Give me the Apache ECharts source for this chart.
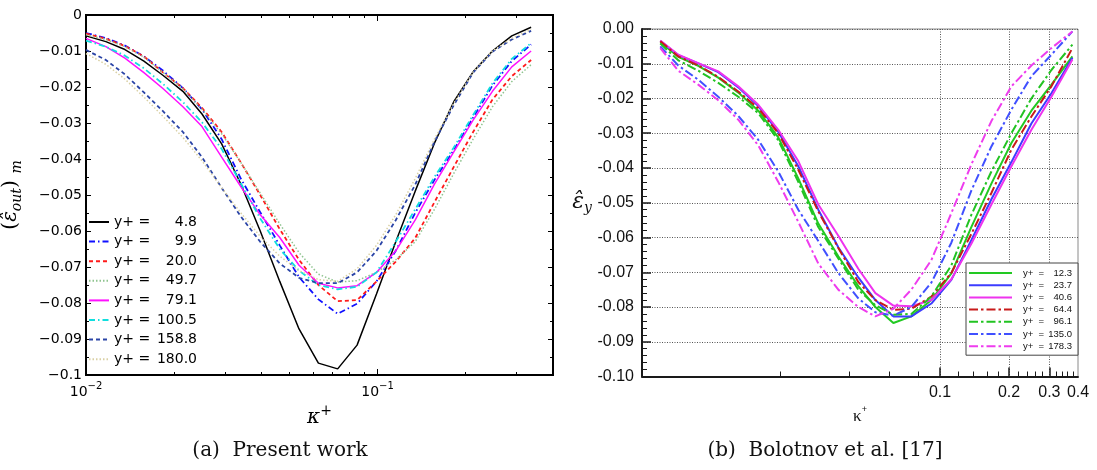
<!DOCTYPE html>
<html>
<head>
<meta charset="utf-8">
<script src="https://cdn.jsdelivr.net/npm/echarts@6.0.0/dist/echarts.min.js"></script>
<style>
html, body { margin: 0; padding: 0; background: #fff; }
#main { width: 1097px; height: 470px; }
</style>
</head>
<body>
<div id="main"></div>
<script>
// (a) present work
var kappaA = [0.0100, 0.0117, 0.0136, 0.0158, 0.0184, 0.0215, 0.0250, 0.0292, 0.0340, 0.0396, 0.0462, 0.0538,
    0.0627, 0.0730, 0.0851, 0.0992, 0.1155, 0.1346, 0.1568, 0.1827, 0.2128, 0.2479, 0.2888, 0.3365];
var yPlusA = ['4.8', '9.9', '20.0', '49.7', '79.1', '100.5', '158.8', '180.0'];
var epsA_4_8 = [-0.0058, -0.0074, -0.0096, -0.0128, -0.0168, -0.0212, -0.0275, -0.0358, -0.0470, -0.0600, -0.0740, -0.0872,
    -0.0967, -0.0983, -0.0917, -0.0775, -0.0630, -0.0490, -0.0356, -0.0241, -0.0158, -0.0100, -0.0058, -0.0034];
var epsA_9_9 = [-0.0050, -0.0064, -0.0085, -0.0115, -0.0155, -0.0203, -0.0262, -0.0345, -0.0455, -0.0548, -0.0640, -0.0728,
    -0.0790, -0.0830, -0.0802, -0.0740, -0.0655, -0.0550, -0.0458, -0.0375, -0.0285, -0.0196, -0.0128, -0.0082];
var epsA_20_0 = [-0.0052, -0.0066, -0.0086, -0.0115, -0.0160, -0.0203, -0.0258, -0.0325, -0.0410, -0.0500, -0.0595, -0.0680,
    -0.0750, -0.0795, -0.0792, -0.0740, -0.0685, -0.0620, -0.0520, -0.0422, -0.0325, -0.0235, -0.0170, -0.0125];
var epsA_49_7 = [-0.0055, -0.0068, -0.0088, -0.0117, -0.0160, -0.0205, -0.0262, -0.0330, -0.0410, -0.0495, -0.0580, -0.0660,
    -0.0720, -0.0742, -0.0738, -0.0715, -0.0680, -0.0630, -0.0540, -0.0440, -0.0345, -0.0255, -0.0185, -0.0138];
var epsA_79_1 = [-0.0065, -0.0088, -0.0120, -0.0160, -0.0205, -0.0255, -0.0310, -0.0395, -0.0477, -0.0555, -0.0618, -0.0695,
    -0.0745, -0.0758, -0.0752, -0.0715, -0.0655, -0.0570, -0.0470, -0.0380, -0.0292, -0.0212, -0.0144, -0.0100];
var epsA_100_5 = [-0.0071, -0.0088, -0.0113, -0.0148, -0.0192, -0.0242, -0.0298, -0.0372, -0.0468, -0.0565, -0.0650, -0.0710,
    -0.0750, -0.0762, -0.0755, -0.0715, -0.0630, -0.0540, -0.0450, -0.0368, -0.0278, -0.0190, -0.0122, -0.0078];
var epsA_158_8 = [-0.0097, -0.0125, -0.0165, -0.0215, -0.0268, -0.0325, -0.0395, -0.0480, -0.0560, -0.0630, -0.0690, -0.0730,
    -0.0745, -0.0745, -0.0715, -0.0655, -0.0570, -0.0472, -0.0352, -0.0250, -0.0160, -0.0102, -0.0068, -0.0044];
var epsA_180_0 = [-0.0107, -0.0137, -0.0178, -0.0228, -0.0282, -0.0340, -0.0405, -0.0480, -0.0550, -0.0615, -0.0670, -0.0710,
    -0.0735, -0.0740, -0.0705, -0.0640, -0.0555, -0.0455, -0.0345, -0.0245, -0.0158, -0.0100, -0.0065, -0.0040];
var ticksMinorA = [0.02, 0.03, 0.04, 0.05, 0.06, 0.07, 0.08, 0.09, 0.2, 0.3];
var ticksMajorA = [0.1];
var labelsA = [0.01, 0.1];

// (b) Bolotnov et al.
var kappaB = [0.00601, 0.00720, 0.00880, 0.01076, 0.01316, 0.01609, 0.01967, 0.02405, 0.02941, 0.03596, 0.04396,
    0.05219, 0.06253, 0.07493, 0.09162, 0.1120, 0.1369, 0.1675, 0.2048, 0.2504, 0.3062, 0.3782];
var yPlusB = ['12.3', '23.7', '40.6', '64.4', '96.1', '135.0', '178.3'];
var epsB_12_3 = [-0.0038, -0.0080, -0.0106, -0.0140, -0.0183, -0.0235, -0.0312, -0.0430, -0.0560, -0.0654, -0.0740,
    -0.0800, -0.0846, -0.0827, -0.0780, -0.0703, -0.0570, -0.0445, -0.0328, -0.0235, -0.0160, -0.0079];
var epsB_23_7 = [-0.0035, -0.0075, -0.0099, -0.0124, -0.0168, -0.0222, -0.0296, -0.0395, -0.0520, -0.0628, -0.0715,
    -0.0780, -0.0827, -0.0827, -0.0790, -0.0722, -0.0608, -0.0490, -0.0383, -0.0272, -0.0185, -0.0083];
var epsB_40_6 = [-0.0033, -0.0074, -0.0098, -0.0122, -0.0165, -0.0218, -0.0290, -0.0380, -0.0505, -0.0595, -0.0690,
    -0.0760, -0.0796, -0.0798, -0.0780, -0.0720, -0.0618, -0.0505, -0.0395, -0.0290, -0.0195, -0.0088];
var epsB_64_4 = [-0.0035, -0.0079, -0.0105, -0.0138, -0.0180, -0.0228, -0.0300, -0.0405, -0.0525, -0.0630, -0.0728,
    -0.0780, -0.0808, -0.0805, -0.0770, -0.0702, -0.0590, -0.0472, -0.0347, -0.0252, -0.0165, -0.0055];
var epsB_96_1 = [-0.0042, -0.0090, -0.0120, -0.0155, -0.0195, -0.0242, -0.0320, -0.0440, -0.0570, -0.0660, -0.0750,
    -0.0795, -0.0822, -0.0820, -0.0770, -0.0680, -0.0535, -0.0410, -0.0300, -0.0200, -0.0118, -0.0045];
var epsB_135_0 = [-0.0050, -0.0105, -0.0146, -0.0195, -0.0250, -0.0319, -0.0410, -0.0520, -0.0610, -0.0702, -0.0775,
    -0.0815, -0.0825, -0.0800, -0.0730, -0.0615, -0.0465, -0.0338, -0.0232, -0.0136, -0.0074, -0.0007];
var epsB_178_3 = [-0.0055, -0.0120, -0.0160, -0.0205, -0.0261, -0.0335, -0.0440, -0.0555, -0.0675, -0.0750, -0.0800,
    -0.0827, -0.0805, -0.0750, -0.0665, -0.0530, -0.0390, -0.0265, -0.0165, -0.0105, -0.0055, -0.0007];
var ticksMajorB = [0.1, 0.2, 0.3];
var ticksMinorB = [0.02, 0.04, 0.06, 0.08, 0.12, 0.14, 0.16, 0.18, 0.22, 0.24, 0.26, 0.28, 0.32, 0.34, 0.36, 0.38];
var labelsB = [0.1, 0.2, 0.3, 0.4];

function pairs(xs, ys) {
    return xs.map(function (x, i) { return [x, ys[i]]; });
}

var fontA = 'DejaVu Sans';
var fontB = 'Liberation Sans';

// 每条曲线的样式
var seriesA = [
    { name: yPlusA[0], data: epsA_4_8, color: '#000000', type: 'solid', width: 1.5 },
    { name: yPlusA[1], data: epsA_9_9, color: '#1010ff', type: [6, 3, 1.5, 3], width: 1.8 },
    { name: yPlusA[2], data: epsA_20_0, color: '#ff1a1a', type: [4, 3], width: 1.8 },
    { name: yPlusA[3], data: epsA_49_7, color: '#8fc48f', type: [1.5, 2], width: 1.5 },
    { name: yPlusA[4], data: epsA_79_1, color: '#ff10ff', type: 'solid', width: 1.5 },
    { name: yPlusA[5], data: epsA_100_5, color: '#10dede', type: [6, 3, 1.5, 3], width: 1.8 },
    { name: yPlusA[6], data: epsA_158_8, color: '#2a44a6', type: [4, 3], width: 1.8 },
    { name: yPlusA[7], data: epsA_180_0, color: '#d9d0a4', type: [1.5, 2], width: 1.5 }
];
var seriesB = [
    { name: yPlusB[0], data: epsB_12_3, color: '#22c922', type: 'solid' },
    { name: yPlusB[1], data: epsB_23_7, color: '#3c3cff', type: 'solid' },
    { name: yPlusB[2], data: epsB_40_6, color: '#ee33ee', type: 'solid' },
    { name: yPlusB[3], data: epsB_64_4, color: '#c81a1a', type: [9, 3, 2.5, 3] },
    { name: yPlusB[4], data: epsB_96_1, color: '#22c322', type: [9, 3, 2.5, 3] },
    { name: yPlusB[5], data: epsB_135_0, color: '#4050ff', type: [9, 3, 2.5, 3] },
    { name: yPlusB[6], data: epsB_178_3, color: '#ee3cee', type: [9, 3, 2.5, 3] }
];

var series = [];
seriesA.forEach(function (s) {
    series.push({
        name: s.name, type: 'line', xAxisIndex: 0, yAxisIndex: 0,
        data: pairs(kappaA, s.data), symbol: 'none', silent: true,
        lineStyle: { color: s.color, width: s.width, type: s.type },
        itemStyle: { color: s.color }
    });
});
seriesB.forEach(function (s) {
    series.push({
        name: s.name, type: 'line', xAxisIndex: 4, yAxisIndex: 2,
        data: pairs(kappaB, s.data), symbol: 'none', silent: true,
        lineStyle: { color: s.color, width: 2, type: s.type },
        itemStyle: { color: s.color }
    });
});

function logAxisA(position, ticks, len, extra) {
    var ax = {
        type: 'log', gridIndex: 0, position: position, min: 0.01, max: 0.4,
        axisLine: { show: false, onZero: false },
        axisTick: { show: true, inside: true, length: len, customValues: ticks, lineStyle: { color: '#000', width: 1 } },
        axisLabel: { show: false },
        splitLine: { show: false }
    };
    return Object.assign(ax, extra || {});
}
function valueAxisA(position, extra) {
    var ax = {
        type: 'value', gridIndex: 0, position: position, min: -0.1, max: 0, interval: 0.01,
        axisLine: { show: false, onZero: false },
        axisTick: { show: true, inside: true, length: 5, lineStyle: { color: '#000', width: 1 } },
        minorTick: { show: true, splitNumber: 2, length: 3, lineStyle: { color: '#000', width: 1 } },
        axisLabel: { show: false },
        splitLine: { show: false }
    };
    return Object.assign(ax, extra || {});
}

var myChart = echarts.init(document.getElementById('main'));
var option = {
    backgroundColor: '#ffffff',
    animation: false,
    grid: [
        { left: 85, top: 15, width: 468, height: 360, show: true, borderColor: '#000', borderWidth: 2, backgroundColor: 'transparent' },
        { left: 642, top: 29, width: 436, height: 347.5, show: true, borderColor: '#8a8a8a', borderWidth: 1, backgroundColor: 'transparent' }
    ],
    xAxis: [
        logAxisA('bottom', ticksMinorA, 3, {
            axisLabel: {
                show: true, customValues: labelsA, margin: 6,
                formatter: function (v) { return v < 0.05 ? '{b|10}{s|−2}' : '{b|10}{s|−1}'; },
                rich: {
                    b: { fontFamily: fontA, fontSize: 14, color: '#000', lineHeight: 18, verticalAlign: 'bottom' },
                    s: { fontFamily: fontA, fontSize: 10, color: '#000', lineHeight: 10, verticalAlign: 'top' }
                }
            },
            name: '{k|κ}{p|+}', nameLocation: 'middle', nameGap: 27,
            nameTextStyle: {
                rich: {
                    k: { fontFamily: 'DejaVu Serif', fontStyle: 'italic', fontSize: 20, color: '#000', lineHeight: 24, verticalAlign: 'bottom' },
                    p: { fontFamily: 'DejaVu Serif', fontSize: 14, color: '#000', lineHeight: 14, verticalAlign: 'top' }
                }
            }
        }),
        logAxisA('bottom', ticksMajorA, 6),
        logAxisA('top', ticksMinorA, 3),
        logAxisA('top', ticksMajorA, 6),
        {
            type: 'log', gridIndex: 1, position: 'bottom', min: 0.005, max: 0.4,
            axisLine: { show: true, onZero: false, lineStyle: { color: '#1a1a1a', width: 2 } },
            axisTick: { show: true, inside: true, length: 9, customValues: ticksMajorB, lineStyle: { color: '#1a1a1a', width: 1.5 } },
            axisLabel: {
                show: true, customValues: labelsB, margin: 8, color: '#111', fontFamily: fontB, fontSize: 16,
                formatter: function (v) { return (Math.round(v * 10) / 10).toFixed(1); }
            },
            splitLine: { show: true, lineStyle: { color: '#555', width: 1, type: [1, 1.5] } },
            name: '{k|κ}{p|+}', nameLocation: 'middle', nameGap: 24,
            nameTextStyle: {
                rich: {
                    k: { fontFamily: 'Liberation Serif', fontSize: 17, color: '#111', lineHeight: 20, verticalAlign: 'bottom' },
                    p: { fontFamily: 'Liberation Sans', fontSize: 9, color: '#111', lineHeight: 10, verticalAlign: 'top' }
                }
            }
        },
        {
            type: 'log', gridIndex: 1, position: 'bottom', min: 0.005, max: 0.4,
            axisLine: { show: false, onZero: false },
            axisTick: { show: true, inside: true, length: 5, customValues: ticksMinorB, lineStyle: { color: '#1a1a1a', width: 1 } },
            axisLabel: { show: false },
            splitLine: { show: false }
        }
    ],
    yAxis: [
        valueAxisA('left', {
            axisLabel: {
                show: true, margin: 4, color: '#000', fontFamily: fontA, fontSize: 14,
                formatter: function (v) {
                    if (v === 0) return '0';
                    return '−' + String(+Math.abs(v).toFixed(2));
                }
            },
            name: '{t|(}{e|ε̂}{s|out}{t|)}  {s|m}', nameLocation: 'middle', nameGap: 62, nameRotate: 90,
            nameTextStyle: {
                rich: {
                    t: { fontFamily: 'DejaVu Serif', fontSize: 20, color: '#000', lineHeight: 26 },
                    e: { fontFamily: 'DejaVu Serif', fontStyle: 'italic', fontSize: 20, color: '#000', lineHeight: 26 },
                    s: { fontFamily: 'DejaVu Serif', fontStyle: 'italic', fontSize: 14, color: '#000', lineHeight: 14, verticalAlign: 'bottom' }
                }
            }
        }),
        valueAxisA('right'),
        {
            type: 'value', gridIndex: 1, position: 'left', min: -0.1, max: 0, interval: 0.01,
            axisLine: { show: true, onZero: false, lineStyle: { color: '#1a1a1a', width: 2 } },
            axisTick: { show: true, inside: true, length: 9, lineStyle: { color: '#1a1a1a', width: 1.5 } },
            minorTick: { show: true, splitNumber: 5, length: 5, lineStyle: { color: '#1a1a1a', width: 1 } },
            axisLabel: {
                show: true, margin: 8, color: '#111', fontFamily: fontB, fontSize: 16,
                formatter: function (v) { return v.toFixed(2); }
            },
            splitLine: { show: true, lineStyle: { color: '#555', width: 1, type: [1, 1.5] } },
            name: '{e|ε̂}{s|y}', nameLocation: 'middle', nameGap: 50, nameRotate: 0,
            nameTextStyle: {
                rich: {
                    e: { fontFamily: 'DejaVu Serif', fontStyle: 'italic', fontSize: 22, color: '#111', lineHeight: 26 },
                    s: { fontFamily: 'DejaVu Serif', fontStyle: 'italic', fontSize: 14, color: '#111', lineHeight: 14, verticalAlign: 'bottom' }
                }
            }
        }
    ],
    legend: [
        {
            data: yPlusA, orient: 'vertical', left: 88, top: 215, padding: 0,
            itemWidth: 20, itemHeight: 14, itemGap: 5.6, selectedMode: false,
            itemStyle: { opacity: 0 },
            formatter: function (name) { return '{a|y+ =}{b|' + name + '}'; },
            textStyle: {
                color: '#000',
                rich: {
                    a: { fontFamily: fontA, fontSize: 14, color: '#000', width: 36 },
                    b: { fontFamily: fontA, fontSize: 14, color: '#000', width: 47, align: 'right' }
                }
            }
        },
        {
            data: yPlusB, orient: 'vertical', left: 966, top: 263, padding: [5, 6, 4, 2],
            backgroundColor: '#ffffff', borderColor: '#444', borderWidth: 1,
            itemWidth: 43, itemHeight: 8, itemGap: 2.2, selectedMode: false,
            itemStyle: { opacity: 0 },
            formatter: function (name) { return '{a|y+  =}{b|' + name + '}'; },
            textStyle: {
                color: '#111',
                rich: {
                    a: { fontFamily: fontB, fontSize: 9.5, color: '#111', width: 22, padding: [0, 0, 0, 6] },
                    b: { fontFamily: fontB, fontSize: 9.5, color: '#111', width: 27, align: 'right' }
                }
            }
        }
    ],
    graphic: [
        { type: 'text', x: 280, y: 451, style: { text: '(a)  Present work', font: '20px "DejaVu Serif"', fill: '#111', textAlign: 'center', textVerticalAlign: 'middle' } },
        { type: 'text', x: 825, y: 451, style: { text: '(b)  Bolotnov et al. [17]', font: '20px "DejaVu Serif"', fill: '#111', textAlign: 'center', textVerticalAlign: 'middle' } }
    ],
    series: series
};

// 使用刚指定的配置项和数据显示图表。
myChart.setOption(option);
</script>
</body>
</html>
